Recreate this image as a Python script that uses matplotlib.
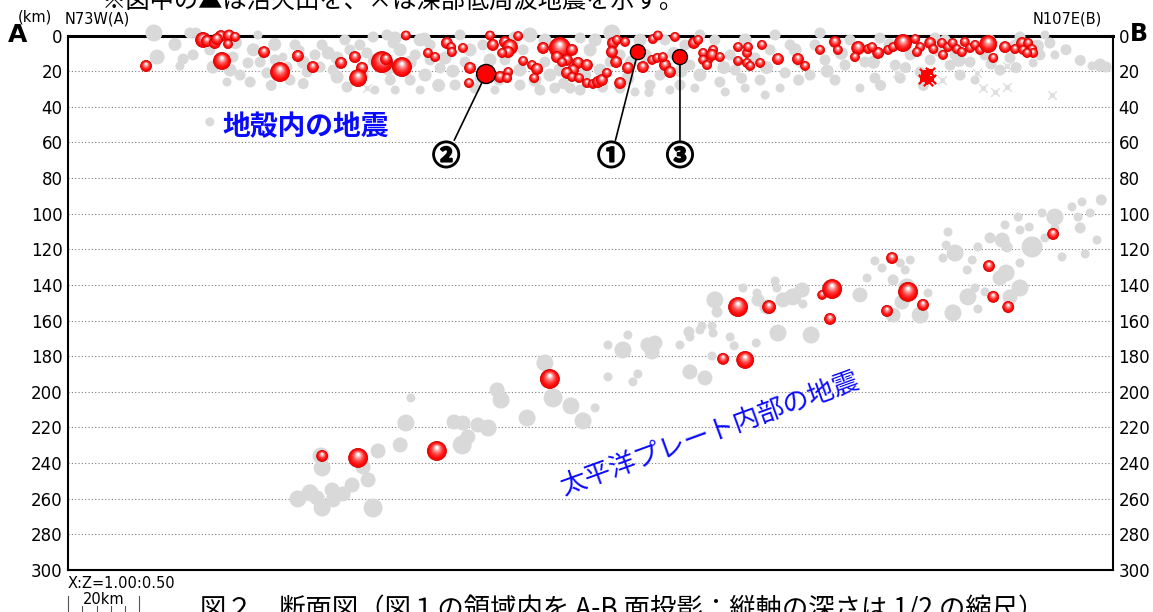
import numpy as np
import matplotlib
matplotlib.use("Agg")
import matplotlib.pyplot as plt
from matplotlib import transforms
from matplotlib import patheffects
from matplotlib.colors import to_rgb

plt.rcParams["font.family"] = ["DejaVu Sans", "Noto Sans CJK JP"]
JP = ["Noto Sans CJK JP", "DejaVu Sans"]

# ---------------------------------------------------------------- data
# profile A-B: distance along the section (km), depth (km), magnitude
X_MAX = 293.2
DEPTH_MAX = 300
depth_ticks = list(range(0, 301, 20))

# earlier seismicity (grey) - crust
crust_grey_x = [24.1, 25.0, 32.3, 34.2, 35.9, 35.1, 31.4, 40.7, 46.3, 45.5, 51.1, 44.6, 50.5, 53.9, 55.8, 53.3,
                48.3, 39.8, 58.1, 61.5, 62.3, 60.3, 65.1, 63.7, 67.1, 71.3, 73.0, 75.5, 75.5, 79.1, 83.9, 85.6,
                89.5, 78.3, 82.8, 91.2, 74.4, 70.7, 69.3, 77.7, 81.9, 90.4, 86.1, 91.8, 91.8, 89.8, 98.8, 96.0,
                100.2, 98.8, 105.8, 110.0, 112.8, 116.4, 104.4, 108.6, 101.6, 114.2, 118.4, 115.6, 97.4, 93.2,
                101.6, 119.8, 111.4, 122.6, 126.8, 127.7, 132.4, 135.2, 125.4, 129.6, 133.8, 136.6, 143.7, 146.5,
                140.9, 147.9, 138.0, 126.8, 149.3, 143.7, 133.8, 152.6, 154.9, 157.1, 160.5, 163.3, 167.5, 171.7,
                177.3, 177.3, 161.9, 166.1, 154.9, 173.1, 174.5, 159.1, 168.9, 152.1, 175.9, 182.9, 187.2, 190.0,
                194.2, 197.0, 201.2, 198.4, 181.5, 185.8, 192.8, 202.6, 205.4, 184.4, 199.8, 195.6, 190.0, 211.0,
                215.2, 219.4, 226.4, 230.6, 208.2, 212.4, 218.0, 223.6, 227.8, 232.1, 222.2, 209.6, 233.5, 239.1,
                246.1, 250.3, 257.3, 236.3, 241.9, 247.5, 253.1, 243.3, 258.7, 261.5, 254.5, 248.9, 267.1, 275.5,
                270.8, 272.7, 264.3, 274.1, 276.9, 265.7, 289.6, 291.3, 287.3, 39.8,
                30.0, 58.0, 66.0, 57.0, 96.0, 104.0, 121.0, 117.0, 131.0, 139.0, 150.0, 158.0, 170.0, 172.0,
                184.0, 189.0, 196.0, 205.0, 213.0, 204.0, 217.0, 226.0, 235.0, 244.0, 250.0, 259.0, 266.0, 272.0,
                280.0, 284.0, 100.0, 108.0, 86.0, 66.0, 47.0, 52.0, 228.0, 240.0, 145.0, 163.0]
crust_grey_d = [-1.4, 12.1, 13.2, -1.4, -1.4, 10.9, 17.1, 17.7, 12.1, 19.4, 26.1, 26.1, 15.4, 14.9, 21.0, -0.3,
                22.2, 8.1, 13.7, 17.7, 25.0, 12.1, 8.1, 5.3, 20.5, 5.3, 9.8, 12.6, 23.3, 8.1, 9.8, 0.8,
                -0.3, 28.9, 22.2, 4.2, 19.4, 17.7, 10.9, 2.5, 5.3, 25.0, 30.6, 30.6, 1.4, 19.4, 2.5, 25.0,
                22.2, 30.6, 12.6, -0.3, 8.1, 5.3, 18.2, 27.8, 13.7, 29.5, 13.7, 23.9, 10.9, 8.1,
                5.3, 30.6, 14.9, 13.7, 27.8, 8.1, 30.6, 22.2, 1.4, -0.3, 2.5, 29.5, 30.6, 8.1,
                29.5, 2.5, 19.4, 19.4, 19.4, 1.4, 14.9, -1.4, 29.5, 23.9, 2.5, 27.8, 2.5, 27.8,
                22.2, -0.3, 10.9, 22.2, 10.9, 5.3, 16.6, 31.7, 30.6, 14.9, 29.5, 26.1, 19.4, 2.5,
                25.0, 8.1, 21.0, -0.3, 2.5, 10.9, 12.6, 5.3, 14.9, 31.7, 29.5, 33.4, 29.5, -1.4,
                25.0, 2.5, 23.9, 5.3, 22.2, 13.7, 16.6, 14.9, 1.4, 16.6, 29.5, 5.3, 23.9, 20.5,
                2.5, 22.2, 10.9, 10.9, 13.7, 16.6, 14.9, 1.4, 2.5, 19.4, 25.0, 10.9, 0.8, 4.2,
                15.4, 10.9, 12.6, -0.3, 10.9, 5.3, 16.6, 17.7, 17.1, 48.5,
                5.0, 5.0, 15.0, 28.0, 15.0, 28.0, 25.0, 20.0, 25.0, 27.0, 29.0, 15.0, 10.0, 20.0,
                18.0, 24.0, 18.0, 25.0, 20.0, 8.0, 10.0, 15.0, 18.0, 8.0, 14.0, 16.0, 18.0, 6.0,
                8.0, 14.0, 2.0, 20.0, 14.0, 27.0, 4.0, 8.0, 28.0, 28.0, 22.0, 32.0]
crust_grey_m = [3.5, 3.0, 2.0, 2.0, 2.0, 2.0, 1.5, 2.5, 2.0, 2.5, 2.0, 1.5, 2.0, 2.0, 2.0, 1.5,
                2.0, 2.0, 2.0, 2.0, 2.0, 1.5, 1.5, 2.0, 2.0, 2.0, 2.5, 2.5, 2.5, 2.0, 2.0, 2.0,
                2.0, 2.0, 2.0, 2.0, 2.0, 2.0, 2.0, 2.0, 2.0, 2.0, 1.5, 1.5, 2.5, 2.0, 2.5, 2.0,
                2.5, 1.5, 2.5, 2.0, 2.5, 2.0, 2.0, 2.0, 2.0, 2.0, 2.5, 2.0, 2.0, 2.5,
                2.0, 1.5, 2.0, 2.0, 2.0, 2.0, 2.0, 2.5, 2.5, 3.0, 2.5, 2.0, 2.0, 2.5,
                2.0, 2.5, 2.5, 2.5, 2.5, 2.0, 2.0, 3.5, 2.0, 2.5, 2.5, 2.0, 2.0, 2.0,
                2.5, 2.0, 2.5, 2.0, 2.0, 2.0, 2.0, 1.5, 1.5, 2.0, 1.5, 2.0, 2.0, 2.5,
                2.0, 2.0, 2.0, 2.0, 2.0, 2.0, 2.0, 2.0, 2.0, 1.5, 1.5, 1.5, 1.5, 2.0,
                2.0, 2.0, 2.0, 2.5, 2.0, 2.0, 2.0, 2.0, 2.0, 2.0, 1.5, 2.0, 2.0, 2.0,
                2.0, 2.0, 2.0, 2.0, 2.0, 2.0, 2.0, 2.0, 2.0, 2.0, 1.5, 2.0, 2.0, 2.0,
                1.5, 2.0, 2.0, 1.5, 1.5, 2.0, 2.5, 2.0, 1.5, 1.5,
                2.5, 2.5, 2.5, 2.0, 2.5, 2.5, 2.0, 2.5, 2.5, 2.0, 2.0, 2.5, 2.5, 2.5,
                2.5, 2.0, 2.5, 2.0, 2.5, 2.5, 2.5, 2.5, 2.0, 2.5, 2.5, 2.0, 2.0, 2.5,
                2.0, 2.0, 2.5, 2.5, 2.5, 2.0, 2.5, 2.5, 2.0, 2.0, 2.5, 1.5]

# earlier seismicity (grey) - Pacific slab
slab_grey_x = [133.8, 136.1, 141.1, 144.5, 147.9, 151.5, 157.1, 159.9, 162.7, 128.8, 120.4, 121.5, 117.9, 115.0,
               108.3, 110.8, 112.2, 110.6, 94.8, 96.2, 93.2, 87.0, 82.8, 84.2, 85.6, 79.7, 77.2, 74.1, 74.4,
               71.0, 71.3, 71.3, 67.9, 69.9, 64.5, 155.7, 163.9, 151.5, 174.5, 178.7, 180.7, 158.5, 171.7,
               177.3, 164.7, 174.2, 174.5, 177.9, 180.7, 181.0, 181.5, 182.1, 185.8, 186.9, 189.4, 193.3, 193.1,
               198.4, 198.9, 200.6, 206.0, 199.2, 208.5, 206.2, 203.4, 196.1, 193.6, 222.2, 224.2, 226.4, 228.4,
               231.5, 233.5, 234.9, 236.3, 234.0, 231.5, 235.4, 239.1, 241.3, 246.9, 246.4, 248.9, 245.5, 248.3,
               252.3, 253.7, 255.3, 252.5, 255.3, 254.5, 257.3, 258.7, 262.1, 263.5, 263.2, 261.5, 262.9, 266.6,
               267.1, 269.7, 267.1, 267.1, 264.3, 270.5, 276.9, 278.9, 273.3, 274.1, 281.7, 283.4, 284.5, 285.4,
               288.7, 276.9, 289.9, 286.8, 284.0]
slab_grey_d = [183.8, 203.4, 207.9, 216.3, 209.0, 173.7, 168.1, 190.0, 173.7, 214.7, 198.9, 204.6, 220.3, 218.6,
               216.9, 217.5, 225.3, 229.8, 217.5, 203.4, 229.8, 233.2, 242.2, 249.4, 265.2, 252.3, 257.3, 255.1, 260.7,
               236.0, 242.7, 265.2, 256.7, 259.6, 260.1, 176.5, 177.6, 191.6, 188.8, 192.2, 179.9, 194.4, 173.7,
               165.3, 172.6, 166.4, 169.2, 163.0, 163.0, 167.0, 148.4, 155.2, 169.2, 174.2, 141.7, 144.5, 172.6,
               137.8, 141.7, 148.4, 142.8, 167.0, 168.1, 150.7, 146.7, 152.4, 148.4, 145.6, 136.1, 126.5, 130.5,
               137.2, 127.7, 131.6, 126.0, 149.6, 156.9, 141.1, 156.9, 144.5, 110.3, 117.6, 122.1, 124.9, 155.7,
               131.6, 126.0, 118.7, 146.7, 153.5, 141.7, 143.9, 113.6, 114.8, 118.7, 133.3, 136.1, 106.3, 101.9,
               109.2, 107.5, 127.7, 141.7, 146.7, 118.7, 101.9, 124.3, 99.6, 113.6, 96.2, 101.9, 93.4, 122.6,
               114.8, 108.0, 92.3, 99.6, 108.0]
slab_grey_m = [3.5, 4.0, 3.5, 3.5, 1.5, 1.5, 1.5, 1.5, 3.0, 3.5, 3.0, 3.5, 3.5, 3.0,
               3.0, 3.0, 3.0, 4.0, 3.5, 1.5, 3.0, 3.0, 3.0, 3.0, 4.0, 3.0, 3.0, 3.0, 3.0,
               3.5, 3.5, 3.5, 3.5, 3.0, 3.5, 3.5, 3.0, 1.5, 3.0, 3.0, 1.5, 1.5, 1.5,
               1.5, 3.0, 2.0, 1.5, 1.5, 1.5, 1.5, 3.5, 2.0, 1.5, 1.5, 1.5, 1.5, 1.5,
               1.5, 1.5, 3.0, 3.0, 3.5, 3.5, 1.5, 3.5, 3.0, 2.5, 3.0, 1.5, 1.5, 1.5,
               2.0, 1.5, 1.5, 1.5, 3.0, 3.0, 3.5, 3.5, 1.5, 1.5, 1.5, 3.5, 1.5, 3.5,
               1.5, 1.5, 1.5, 3.5, 1.5, 1.5, 1.5, 2.0, 3.0, 2.0, 3.5, 3.0, 1.5, 1.5,
               1.5, 1.5, 1.5, 3.5, 3.0, 4.5, 3.5, 1.5, 1.5, 1.5, 1.5, 1.5, 1.5, 1.5,
               1.5, 1.5, 2.0, 1.5, 2.0]

# recent seismicity (red) - crust
crust_red_x = [21.9, 37.9, 39.0, 41.2, 42.9, 45.2, 46.9, 44.9, 41.8, 43.2, 55.0, 59.5, 64.5, 68.7, 76.6, 80.5,
               82.5, 81.4, 88.1, 89.2, 93.7, 94.8, 106.3, 107.5, 107.7, 110.8, 101.0, 103.0, 112.8, 112.5, 118.4,
               119.2, 122.6, 124.0, 123.5, 121.8, 126.3, 121.2, 123.5, 123.2, 127.7, 130.2, 131.6, 130.8, 133.3,
               138.0, 140.0, 137.2, 141.4, 138.6, 143.1, 145.6, 141.7, 140.0, 141.4, 143.4, 145.6, 147.3, 148.7,
               149.8, 151.2, 152.9, 154.0, 156.3, 152.6, 153.8, 154.9, 157.1, 161.3, 163.9, 165.3, 164.1, 165.5,
               170.3, 167.5, 168.9, 166.9, 175.6, 176.8, 178.2, 179.6, 181.0, 180.7, 182.9, 178.2, 179.3, 188.0,
               190.5, 190.8, 188.0, 190.5, 191.4, 194.7, 194.2, 199.2, 204.8, 206.8, 211.0, 215.2, 216.0, 221.7,
               220.8, 224.5, 227.3, 225.6, 230.1, 231.5, 234.3, 237.7, 239.1, 238.2, 241.9, 242.8, 245.2, 245.5,
               246.9, 248.2, 249.4, 250.8, 251.6, 253.1, 254.5, 255.9, 258.2, 259.6, 262.9, 265.7, 267.7, 268.0,
               269.4, 270.5, 270.8, 269.1]
crust_red_d = [17.1, 2.5, 3.1, 4.2, 0.3, 0.0, 0.8, 4.8, 2.0, 14.3, 9.3, 20.5, 11.5, 17.7, 15.4, 12.1,
               18.2, 23.9, 14.9, 13.2, 17.7, 0.0, 4.2, 6.5, 9.3, 7.0, 9.8, 12.1, 18.2, 26.7, 0.0,
               5.3, 3.6, 6.5, 9.3, 9.8, 0.3, 23.3, 20.5, 23.9, 14.3, 16.6, 18.8, 23.9, 7.0,
               7.0, 13.7, 12.1, 8.1, 14.9, 15.4, 16.6, 19.4, 21.0, 23.3, 23.9, 26.7, 27.2, 26.1,
               25.0, 21.0, 4.2, 2.5, 3.6, 9.3, 14.9, 26.7, 18.2, 17.7, 13.7, 12.6, 2.0, 0.0,
               0.8, 16.6, 20.5, 12.1, 4.2, 2.5, 9.8, 13.7, 8.1, 10.9, 12.1, 13.7, 16.6, 6.5,
               9.8, 6.5, 14.3, 15.4, 17.1, 5.3, 15.4, 13.2, 13.2, 17.1, 8.1, 3.6, 8.1, 7.0,
               12.1, 7.6, 9.8, 6.5, 8.1, 6.5, 4.2, 2.0, 6.5, 9.3, 4.2, 7.6, 4.2, 10.9,
               6.5, 4.2, 7.6, 9.3, 3.6, 7.0, 5.3, 8.1, 4.8, 12.6, 6.5, 7.6, 4.2, 8.1,
               4.2, 7.6, 9.8, 9.8]
crust_red_m = [2.0, 3.0, 2.0, 2.0, 2.0, 2.0, 1.5, 1.5, 2.0, 3.5, 2.0, 4.0, 2.0, 2.0, 2.0, 2.0,
               2.0, 3.5, 4.5, 2.0, 4.0, 1.5, 2.0, 1.5, 1.5, 1.5, 1.5, 1.5, 2.0, 1.5, 1.5,
               2.0, 2.0, 3.0, 2.0, 1.5, 1.5, 2.0, 1.5, 1.5, 1.5, 1.5, 2.0, 1.5, 2.0,
               4.5, 2.0, 2.0, 2.0, 1.5, 2.0, 2.0, 2.0, 2.0, 1.5, 1.5, 1.5, 1.5, 2.0,
               2.0, 1.5, 2.0, 1.5, 1.5, 2.0, 2.0, 2.0, 2.0, 2.0, 1.5, 1.5, 1.5, 1.5,
               1.5, 2.0, 2.0, 1.5, 2.0, 1.5, 1.5, 1.5, 1.5, 2.0, 1.5, 1.5, 1.5, 1.5,
               1.5, 1.5, 1.5, 1.5, 1.5, 1.5, 1.5, 2.0, 2.0, 1.5, 1.5, 2.0, 1.5, 2.5,
               1.5, 1.5, 2.0, 1.5, 1.5, 1.5, 3.5, 1.5, 1.5, 1.5, 2.0, 1.5, 1.5, 1.5,
               1.5, 1.5, 1.5, 1.5, 1.5, 1.5, 1.5, 1.5, 3.5, 1.5, 2.0, 1.5, 2.0, 1.5,
               1.5, 1.5, 1.5, 1.5]

# recent seismicity (red) - Pacific slab
slab_red_x = [71.3, 81.4, 103.5, 135.2, 183.8, 190.0, 188.0, 196.7, 211.6, 214.4, 213.8, 231.2, 235.7, 229.8,
              239.9, 258.4, 259.6, 263.8, 276.4]
slab_red_d = [236.0, 237.1, 233.2, 192.8, 181.5, 182.1, 152.4, 152.4, 145.6, 142.3, 159.1, 124.9, 143.9, 154.6,
              151.2, 129.4, 146.7, 152.4, 111.4]
slab_red_m = [2.0, 4.0, 4.0, 4.0, 2.0, 3.5, 4.0, 2.5, 1.5, 4.0, 2.0, 2.0, 4.0, 2.0,
              2.0, 2.0, 2.0, 2.0, 2.0]

# numbered events
num_labels = ["①", "②", "③"]
num_x = [159.9, 117.3, 171.7]
num_d = [9.3, 21.6, 12.1]
num_m = [3.0, 4.0, 3.0]
num_label_x = [152.4, 106.1, 171.7]
num_label_d = [68.2, 68.2, 68.2]

# deep low-frequency earthquakes
dlf_old_x = [232.6, 245.2, 255.1, 263.5, 256.7, 260.1, 263.5, 276.1, 83.9]
dlf_old_d = [21.0, 25.0, 21.0, 17.1, 29.5, 31.7, 28.9, 33.4, 29.5]
dlf_new_x = [240.2, 241.9, 241.0, 239.9, 242.2, 241.3]
dlf_new_d = [21.0, 20.5, 22.7, 24.4, 24.4, 25.5]

# ---------------------------------------------------------------- figure
DPI = 100
fig = plt.figure(figsize=(11.53, 6.12), dpi=DPI)
ax = fig.add_axes([0.05898, 0.068627, 0.90633, 0.87336])
ax.set_xlim(0, X_MAX)
ax.set_ylim(DEPTH_MAX, 0)

ax.set_xticks([])
ax.set_yticks(depth_ticks)
ax.set_yticklabels([str(t) for t in depth_ticks])
ax.tick_params(axis="y", length=0, labelsize=12, pad=4, right=True, labelright=True)
ax.yaxis.grid(True, linestyle=(0, (1, 2)), color="#7a7a7a", lw=0.8)
ax.set_axisbelow(True)
for side, lw in (("top", 2.2), ("left", 1.5), ("right", 1.5), ("bottom", 1.5)):
    ax.spines[side].set_linewidth(lw)
    ax.spines[side].set_color("black")


def radius_px(m):
    return 2.0 * np.asarray(m, dtype=float) + 1.5


def area_pt(r_px):
    return (2.0 * r_px * 72.0 / DPI) ** 2


# grey earlier events
gx = crust_grey_x + slab_grey_x
gd = crust_grey_d + slab_grey_d
gm = crust_grey_m + slab_grey_m
ax.scatter(gx, gd, s=area_pt(radius_px(gm)), color="#d9d9d9", linewidths=0,
           zorder=3, clip_on=False)

# earlier deep low-frequency events
ax.scatter(dlf_old_x, dlf_old_d, s=38, marker="x", color="#dedede", linewidths=1.0, zorder=3)
ax.scatter(dlf_old_x, dlf_old_d, s=8, marker="s", facecolor="none", edgecolor="#dedede",
           linewidths=0.6, zorder=3)

# shaded red spheres for recent events
p0 = ax.transData.transform((0, 0))
p1 = ax.transData.transform((0, 100))
px_per_km = abs(p1[1] - p0[1]) / 100.0


def sphere_layers(xs, ds, ms, n=10):
    red = np.array(to_rgb("#ff0000"))
    white = np.ones(3)
    ox, oy, sz, fc, ec, lw = [], [], [], [], [], []
    for x, d, m in zip(xs, ds, ms):
        r = float(radius_px(m))
        for i in range(n):
            t = i / (n - 1)
            f = 1.0 - 0.85 * t
            w = t ** 1.7
            shift = (1.0 - f) * r * 0.42
            ox.append(x)
            oy.append(d - shift / px_per_km)
            sz.append(area_pt(r * f))
            fc.append(tuple(red * (1 - w) + white * w))
            if i == 0:
                ec.append((0.8, 0.0, 0.0))
                lw.append(0.6)
            else:
                ec.append((0, 0, 0, 0))
                lw.append(0.0)
    return ox, oy, sz, fc, ec, lw


rx = crust_red_x + slab_red_x
rd = crust_red_d + slab_red_d
rm = crust_red_m + slab_red_m
ox, oy, sz, fc, ec, lw = sphere_layers(rx, rd, rm)
ax.scatter(ox, oy, s=sz, c=fc, edgecolors=ec, linewidths=lw, zorder=4, clip_on=False)

# recent deep low-frequency events
ax.scatter(dlf_new_x, dlf_new_d, s=45, marker="x", color="#ff0000", linewidths=1.6, zorder=5)
ax.scatter(dlf_new_x, dlf_new_d, s=14, marker="s", color="#ff0000", linewidths=0, zorder=5)

# numbered events with leader lines
ax.scatter(num_x, num_d, s=area_pt(radius_px(num_m)), color="#ff0000", edgecolors="black",
           linewidths=1.0, zorder=7)
bold_stroke = [patheffects.withStroke(linewidth=1.3, foreground="black")]
for lab, x, d, lx, ld in zip(num_labels, num_x, num_d, num_label_x, num_label_d):
    ax.annotate(lab, xy=(x, d), xytext=(lx, ld), textcoords="data", ha="center", va="center",
                fontsize=20, fontweight="bold", family=JP, zorder=6, path_effects=bold_stroke,
                arrowprops=dict(arrowstyle="-", color="black", lw=1.2, shrinkA=0, shrinkB=0))

# region labels
ax.text(43.2, 51.3, "地殻内の地震", family=JP, fontsize=20, fontweight="bold",
        color="#0a0aff", ha="left", va="center", zorder=6)
ax.text(180.1, 223.6, "太平洋プレート内部の地震", family=JP, fontsize=19, color="#0a0aff",
        ha="center", va="center", rotation=20, rotation_mode="anchor", zorder=6)

# header
fig.text(18 / 1153, 1 - 35 / 612, "A", fontsize=18, fontweight="bold", ha="center", va="center")
fig.text(1139 / 1153, 1 - 34 / 612, "B", fontsize=17, fontweight="bold", ha="center", va="center")
fig.text(18 / 1153, 1 - 17 / 612, "(km)", fontsize=10.5, ha="left", va="center")
fig.text(65 / 1153, 1 - 19 / 612, "N73W(A)", fontsize=10.5, ha="left", va="center")
fig.text(1102 / 1153, 1 - 19 / 612, "N107E(B)", fontsize=10.5, ha="right", va="center")
fig.text(102 / 1153, 1 - 0.5 / 612, "※図中の▲は活火山を、×は深部低周波地震を示す。",
         family=JP, fontsize=17.5, ha="left", va="center")

# scale note and 20 km bar below the section
xfig = transforms.blended_transform_factory(ax.transData, fig.transFigure)
fig.text(0, 1 - 583 / 612, "X:Z=1.00:0.50", transform=xfig, fontsize=10.5, ha="left", va="center")
bar_top = 1 - 596 / 612
tick_top = 1 - 606 / 612
ax.plot([0, 0], [0, bar_top], transform=xfig, color="#555555", lw=0.8, clip_on=False)
ax.plot([20, 20], [0, bar_top], transform=xfig, color="#555555", lw=0.8, clip_on=False)
for k in (4, 8, 12, 16):
    ax.plot([k, k], [0, tick_top], transform=xfig, color="#555555", lw=0.8, clip_on=False)
fig.text(10, 1 - 600 / 612, "20km", transform=xfig, fontsize=10.5, ha="center", va="center")

# caption
fig.text(200 / 1153, 1 - 609 / 612,
         "図２　断面図（図１の領域内を A-B 面投影：縦軸の深さは 1/2 の縮尺）",
         family=JP, fontsize=19, ha="left", va="center")

fig.savefig("out.png", dpi=DPI)
